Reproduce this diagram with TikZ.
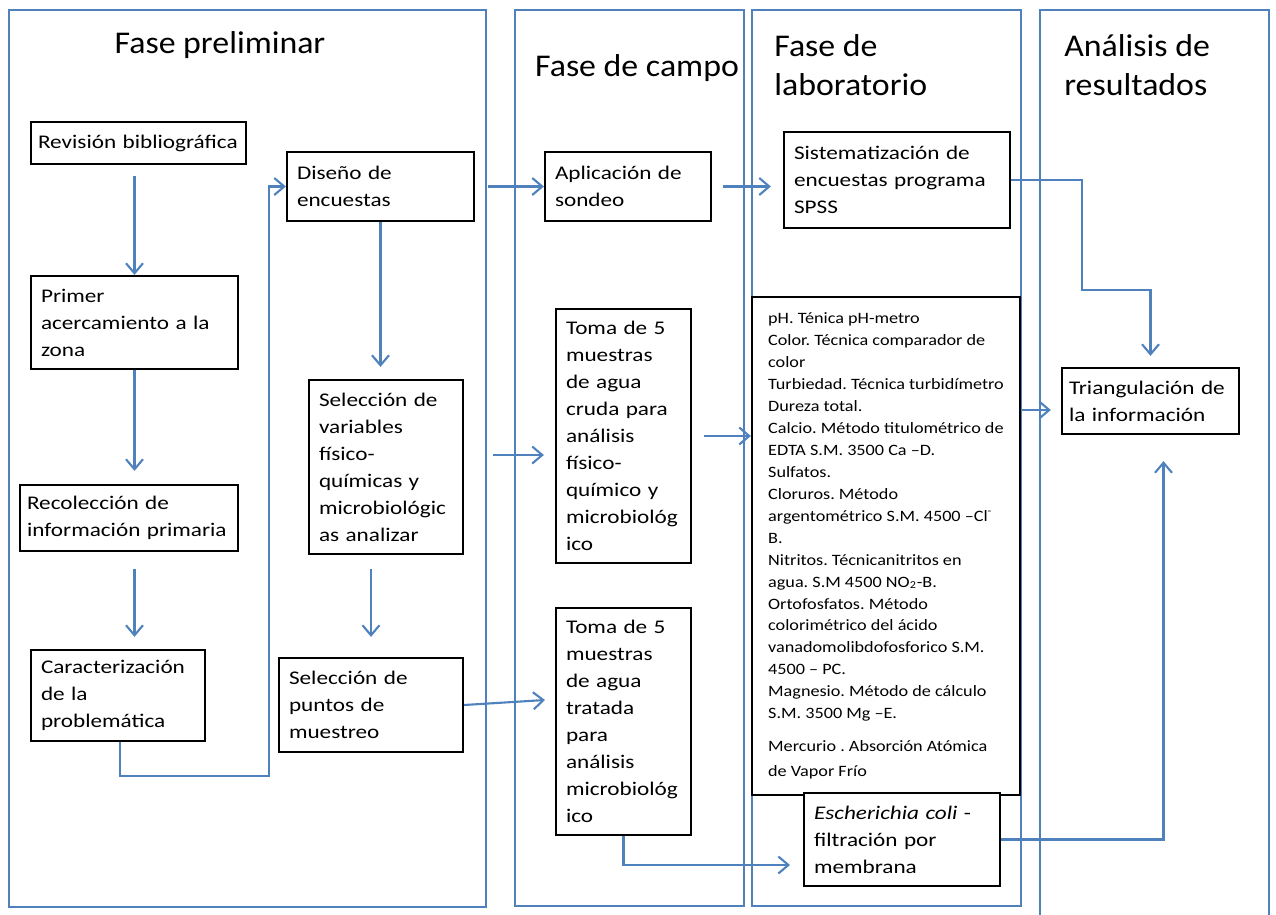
\documentclass[tikz,border=0pt]{standalone}
\usepackage{fontspec}
\setmainfont{Carlito}
\newfontfamily\titlefont{Carlito}[FakeStretch=1.07]
\newfontfamily\boxfont{Carlito}[FakeStretch=1.2]
\newfontfamily\labfont{Carlito}[FakeStretch=1.15]
\usetikzlibrary{arrows.meta,calc}
\definecolor{linkblue}{HTML}{4F81BD}

\begin{document}
\frenchspacing
\hyphenpenalty=10000
\exhyphenpenalty=10000
\begin{tikzpicture}[x=0.02cm, y=-0.02cm, >={Straight Barb[length=2mm,width=3.4mm]}]
    % Styles
    \tikzstyle{phase} = [draw=linkblue, line width=1.2pt]
    \tikzstyle{title} = [font=\titlefont\fontsize{18}{22}\selectfont, align=left, inner sep=0pt]
    \tikzstyle{block} = [draw, line width=1.3pt, fill=white, align=left, inner xsep=0.2cm, inner ysep=0.08cm, font=\boxfont\fontsize{11}{15.4}\selectfont]
    \tikzstyle{flow} = [->, draw=linkblue, line width=1.2pt]

    \useasboundingbox (0,0) rectangle (1276,914);

    % Phases
    \draw [phase] (9,10) rectangle (486,907);
    \draw [phase] (515,10) rectangle (744,906);
    \draw [phase] (752,10) rectangle (1021,906);
    \draw [phase] (1040,916) |- (1269,10) -- (1269,916);

    \node [title] (tpre) at (220,45) {Fase preliminar};
    \node [title] (tcampo) at (637,68) {Fase de campo};
    \node [title, anchor=west] (tlab) at (774,65) {Fase de\\laboratorio};
    \node [title, anchor=west] (tres) at (1064,65) {Análisis de\\resultados};

    % Nodes
    \node [block, inner xsep=0.14cm, minimum width=4.3cm, minimum height=0.84cm, text width=4.02cm] (rev) at (138.5,143) {\mbox{Revisión bibliográfica}};
    \node [block, minimum width=4.14cm, minimum height=1.86cm, text width=3.74cm] (prim) at (134.5,322.5) {Primer\\acercamiento a la\\zona};
    \node [block, inner xsep=0.14cm, minimum width=4.36cm, minimum height=1.32cm, text width=4.08cm] (reco) at (129,518) {Recolección de\\\mbox{información primaria}};
    \node [block, minimum width=3.48cm, minimum height=1.82cm, text width=3.08cm] (cara) at (118,695.5) {Caracterización\\de la\\problemática};
    \node [block, minimum width=3.74cm, minimum height=1.38cm, text width=3.34cm] (dise) at (380.5,186.5) {Diseño de\\encuestas};
    \node [block, minimum width=3.08cm, minimum height=3.48cm, text width=2.68cm] (selv) at (386,467) {Selección de\\variables\\físico-\\químicas y\\microbiológic\\as analizar};
    \node [block, minimum width=3.68cm, minimum height=1.88cm, text width=3.28cm] (selp) at (371,705) {Selección de\\puntos de\\muestreo};
    \node [block, minimum width=3.32cm, minimum height=1.38cm, text width=2.92cm] (apli) at (628,186.5) {Aplicación de\\sondeo};
    \node [block, minimum width=2.7cm, minimum height=5.08cm, text width=2.3cm] (toma1) at (623.5,436) {Toma~de~5\\muestras\\de~agua\\cruda~para\\análisis\\físico-\\químico~y\\microbiológ\\ico};
    \node [block, minimum width=2.7cm, minimum height=4.54cm, text width=2.3cm] (toma2) at (623.5,721.5) {Toma~de~5\\muestras\\de~agua\\tratada\\para\\análisis\\microbiológ\\ico};
    \node [block, minimum width=4.52cm, minimum height=1.92cm, text width=4.12cm] (sist) at (897,180) {Sistematización de\\encuestas programa\\SPSS};
    \node [block, minimum width=5.36cm, minimum height=9.96cm, font=\labfont\fontsize{9}{12.5}\selectfont] (lab) at (886,546) {pH. Ténica pH-metro\\Color. Técnica comparador de\\color\\Turbiedad. Técnica turbidímetro\\Dureza total.\\Calcio. Método titulométrico de\\EDTA S.M. 3500 Ca –D.\\Sulfatos.\\Cloruros. Método\\argentométrico S.M. 4500 –Cl\textsuperscript{-}\\B.\\Nitritos. Técnicanitritos en\\agua. S.M 4500 NO\textsubscript{2}-B.\\Ortofosfatos. Método\\colorimétrico del ácido\\vanadomolibdofosforico S.M.\\4500 – PC.\\Magnesio. Método de cálculo\\S.M. 3500 Mg –E.\\[6pt]Mercurio . Absorción Atómica\\[2pt]de Vapor Frío};
    \node [block, minimum width=3.92cm, minimum height=1.86cm, text width=3.52cm] (ecoli) at (902,839.5) {\textit{Escherichia coli} -\\filtración por\\membrana};
    \node [block, inner xsep=0.14cm, minimum width=3.54cm, minimum height=1.32cm, text width=3.26cm] (tri) at (1150.5,401) {\mbox{Triangulación de}\\la información};

    \coordinate (bend) at (269,776);
    \coordinate (t1in) at (493,455);
    \coordinate (t2in) at (545,700);
    \coordinate (ecin) at (790,865);
    \coordinate (knee) at (1082,290);
    \coordinate (labout) at (1030,410);

    % Connections
    \draw [flow, shorten <=0.22cm] (prim.north |- rev.south) -- (prim.north);
    \draw [flow, shorten >=0.26cm] (prim.south) -- (prim.south |- reco.north);
    \draw [flow, shorten <=0.34cm, shorten >=0.24cm] (prim.south |- reco.south) -- (prim.south |- cara.north);
    \draw [flow] ($(cara.south)+(2,0)$) |- (bend) |- (dise.west);
    \draw [flow, shorten >=0.24cm] (dise.south) -- (dise.south |- selv.north);
    \draw [flow, shorten <=0.28cm, shorten >=0.4cm] (selp.north |- selv.south) -- (selp.north);
    \draw [flow] (selp.east) -- (t2in);
    \draw [flow, shorten <=0.26cm] (dise.east) -- (apli.west);
    \draw [flow, shorten <=0.22cm, shorten >=0.24cm] (apli.east) -- (apli.east -| sist.west);
    \draw [flow, shorten >=0.22cm] (t1in) -- (t1in -| toma1.west);
    \draw [flow, shorten <=0.24cm] (toma1.east) -- (toma1.east -| lab.west);
    \draw [flow] (toma2.south) |- (ecin);
    \draw [flow, shorten >=0.22cm] (sist.east) -| (knee) -| (tri.north);
    \draw [flow, shorten >=0.2cm] (lab.east |- labout) -- (tri.west |- labout);
    \draw [flow, shorten >=0.52cm] (ecoli.east) -| ($(tri.south)+(13,0)$);
\end{tikzpicture}
\end{document}
